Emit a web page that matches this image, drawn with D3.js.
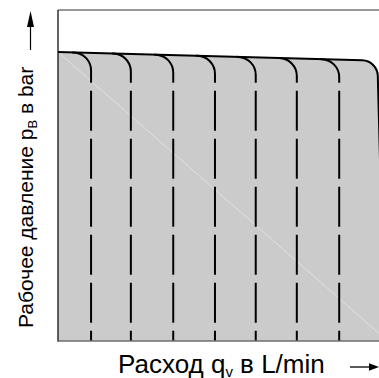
<!DOCTYPE html>
<html><head><meta charset="utf-8">
<script src="https://cdn.jsdelivr.net/npm/d3@7"></script>
<style>body{margin:0;background:#fff;overflow:hidden}</style></head>
<body><svg id="c" width="379" height="378"></svg>
<script>
// ---- data ----
const flowDomain = [0, 100];
const pressureDomain = [0, 100];
// envelope: start, rounded corner, bottom end
const envelopeFlow = [0, 99.5, 101.8];
const envelopePressure = [87.3, 84.7, 0];
const diagonalFlow = [0, 102.7];
const diagonalPressure = [87.3, 0];
const valveFlows = [10.3, 22.7, 35.9, 48.9, 61.6, 74.4, 87.6];
const xLabelParts = ["Расход q", "v", " в L/min"];
const yLabelParts = ["Рабочее давление p", "B", " в bar"];

// ---- layout ----
const svg = d3.select("#c");
const x = d3.scaleLinear().domain(flowDomain).range([58, 379]);
const y = d3.scaleLinear().domain(pressureDomain).range([341, 10]);

const envP = f => envelopePressure[0] + (envelopePressure[1]-envelopePressure[0])*(f-envelopeFlow[0])/(envelopeFlow[1]-envelopeFlow[0]);

function envelopePath(p, closeFill) {
  p.moveTo(x(envelopeFlow[0]), y(envelopePressure[0]));
  p.arcTo(x(envelopeFlow[1]), y(envelopePressure[1]), x(envelopeFlow[2]), y(envelopePressure[2]), 16);
  p.lineTo(x(envelopeFlow[2]), y(envelopePressure[2]));
  if (closeFill) { p.lineTo(x(envelopeFlow[0]), y(0)); p.closePath(); }
  return p;
}

// fill
svg.append("path").attr("d", envelopePath(d3.path(), true).toString())
  .attr("fill", "#cbcbcb").attr("stroke", "none");

// faint diagonal
svg.append("line")
  .attr("x1", x(diagonalFlow[0])).attr("y1", y(diagonalPressure[0]))
  .attr("x2", x(diagonalFlow[1])).attr("y2", y(diagonalPressure[1]))
  .attr("stroke", "#e0e0e0").attr("stroke-width", 1);

// valve lines (drawn from bottom up so dashes align)
const r = 18;
valveFlows.forEach(f => {
  const p = d3.path();
  p.moveTo(x(f), y(0));
  p.arcTo(x(f), y(envP(f)), x(f) - 40, y(envP(f - 40/3.21)), r);
  p.lineTo(x(f) - r - 1, y(envP(f - (r+1)/3.21)));
  svg.append("path").attr("d", p.toString())
    .attr("fill", "none").attr("stroke", "#000").attr("stroke-width", 2)
    .attr("stroke-dasharray", "10.3,8,40,8,40,8,40,8,40,8,40,8,80");
});

// envelope line
svg.append("path").attr("d", envelopePath(d3.path(), false).toString())
  .attr("fill", "none").attr("stroke", "#000").attr("stroke-width", 2);

// frame
svg.append("line").attr("x1", x(0)).attr("x2", 379).attr("y1", y(100)).attr("y2", y(100))
  .attr("stroke", "#333").attr("stroke-width", 1);
svg.append("line").attr("x1", x(0)).attr("x2", x(0)).attr("y1", y(100)).attr("y2", y(0)+0.8)
  .attr("stroke", "#111").attr("stroke-width", 1.3);
svg.append("line").attr("x1", x(0)).attr("x2", 379).attr("y1", y(0)).attr("y2", y(0))
  .attr("stroke", "#6e6e6e").attr("stroke-width", 1.6);

// labels
const font = "Liberation Sans, Arial, sans-serif";
const xt = svg.append("text").attr("x", 118).attr("y", 373)
  .attr("font-family", font).attr("font-size", 26).attr("fill", "#000");
xt.append("tspan").text(xLabelParts[0]);
xt.append("tspan").attr("font-size", 15).attr("dy", 4).text(xLabelParts[1]);
xt.append("tspan").attr("dy", -4).text(xLabelParts[2]);

svg.append("line").attr("x1", 350).attr("x2", 372).attr("y1", 367).attr("y2", 367)
  .attr("stroke", "#000").attr("stroke-width", 1.3);
svg.append("path").attr("d", "M379,367L369,363.3L369,370.7Z").attr("fill", "#000");

const yt = svg.append("text").attr("transform", "translate(33,328) rotate(-90)")
  .attr("font-family", font).attr("font-size", 21).attr("fill", "#000");
yt.append("tspan").text(yLabelParts[0]);
yt.append("tspan").attr("font-size", 13).attr("dy", 4).text(yLabelParts[1]);
yt.append("tspan").attr("dy", -4).text(yLabelParts[2]);

svg.append("line").attr("x1", 30.5).attr("x2", 30.5).attr("y1", 50).attr("y2", 24)
  .attr("stroke", "#000").attr("stroke-width", 1.2);
svg.append("path").attr("d", "M30.5,11L27,27L34,27Z").attr("fill", "#000");
</script></body></html>
